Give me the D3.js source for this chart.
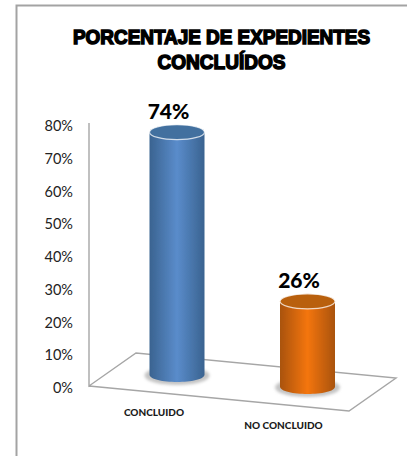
<!DOCTYPE html>
<html><head><meta charset="utf-8">
<script src="https://cdn.jsdelivr.net/npm/d3@7"></script>
<style>html,body{margin:0;padding:0;background:#fff;overflow:hidden}svg{display:block}</style>
</head><body><div id="c"></div>
<script>
const titleLines = ["PORCENTAJE DE EXPEDIENTES", "CONCLUÍDOS"];
const categories = ["CONCLUIDO", "NO CONCLUIDO"];
const values = [74, 26];
const valueLabels = ["74%", "26%"];
const tickValues = [0, 10, 20, 30, 40, 50, 60, 70, 80];
const sideColors = [["#3a6390", "#5a8ccb", "#3a6390"], ["#a9530c", "#f4750f", "#a9530c"]];
const topColors = ["#42709f", "#b9600e"];

const W = 407, H = 456;
const svg = d3.select("#c").append("svg").attr("width", W).attr("height", H);
const defs = svg.append("defs");
defs.append("filter").attr("id", "soft").append("feGaussianBlur").attr("stdDeviation", 0.5);
defs.append("filter").attr("id", "shadow").attr("x", "-30%").attr("y", "-50%").attr("width", "160%").attr("height", "200%")
  .append("feGaussianBlur").attr("stdDeviation", 1.6);

// frame
svg.append("path").attr("d", "M16.5,456V5.5H407").attr("fill", "none")
  .attr("stroke", "#a3a3a3").attr("stroke-width", 2);

// title
svg.append("g").selectAll("text").data(titleLines).join("text")
  .attr("x", 221.5).attr("y", (d, i) => 44 + i * 25)
  .attr("text-anchor", "middle")
  .attr("font-family", "'Liberation Sans', Arial, sans-serif")
  .attr("font-weight", 700).attr("font-size", 20)
  .attr("fill", "#000").attr("stroke", "#000").attr("stroke-width", 1.5)
  .attr("textLength", (d, i) => i === 0 ? 297 : 128)
  .attr("lengthAdjust", "spacingAndGlyphs")
  .text(d => d);

// scales
const y = d3.scaleLinear().domain([0, 80]).range([386, 124]);
const heightOf = v => y(0) - y(v);
const x = d3.scaleOrdinal().domain(categories).range([177, 307.5]);
const baseY = d3.scaleOrdinal().domain(categories).range([374.5, 386.5]);
const labelX = d3.scaleOrdinal().domain(categories).range([154, 283.5]);
const labelY = d3.scaleOrdinal().domain(categories).range([412, 425]);
const rx = 27.5, ry = 7.5;

// floor + back wall line
svg.append("path").attr("d", "M89,123V386L136,353L396,378L349,411L89,386")
  .attr("fill", "none").attr("stroke", "#a6a6a6").attr("stroke-width", 1.4)
  .attr("filter", "url(#soft)");

// y axis labels
const axis = d3.axisLeft(y).tickValues(tickValues).tickSize(0).tickPadding(0).tickFormat(d => d + "%");
const gAxis = svg.append("g").attr("transform", "translate(73,0)").call(axis);
gAxis.select(".domain").remove();
gAxis.selectAll("text").attr("font-family", "Lato, sans-serif").attr("font-size", 14.5)
  .attr("fill", "#222").attr("dy", "0.45em");

// cylinders
categories.forEach((c, i) => {
  const cx = x(c), by = baseY(c), ty = by - heightOf(values[i]);
  const g = svg.append("g");
  const grad = defs.append("linearGradient").attr("id", "side" + i);
  sideColors[i].forEach((col, k) => grad.append("stop").attr("offset", k / 2).attr("stop-color", col));
  g.append("ellipse").attr("cx", cx).attr("cy", by + 1).attr("rx", rx + 5).attr("ry", ry + 2)
    .attr("fill", "#c4c4c4").attr("filter", "url(#shadow)");
  const sideArc = d3.path();
  sideArc.moveTo(cx - rx, ty);
  sideArc.lineTo(cx - rx, by);
  sideArc.bezierCurveTo(cx - rx, by + ry * 1.33, cx + rx, by + ry * 1.33, cx + rx, by);
  sideArc.lineTo(cx + rx, ty);
  sideArc.closePath();
  g.append("path").attr("d", sideArc.toString()).attr("fill", `url(#side${i})`).attr("filter", "url(#soft)");
  g.append("ellipse").attr("cx", cx).attr("cy", ty).attr("rx", rx).attr("ry", ry)
    .attr("fill", topColors[i]).attr("filter", "url(#soft)")
    .attr("stroke", "#fff").attr("stroke-opacity", 0.75).attr("stroke-width", 1.2);
  svg.append("text").attr("x", cx - 8.5).attr("y", ty - 13.5).attr("text-anchor", "middle")
    .attr("font-family", "Lato, sans-serif").attr("font-weight", 900).attr("font-size", 21)
    .attr("fill", "#000").text(valueLabels[i]);
  svg.append("text").attr("x", labelX(c)).attr("y", labelY(c) + 3.5).attr("text-anchor", "middle")
    .attr("font-family", "Lato, sans-serif").attr("font-weight", 900).attr("font-size", 10)
    .attr("fill", "#1a1a1a").text(c);
});
</script></body></html>
